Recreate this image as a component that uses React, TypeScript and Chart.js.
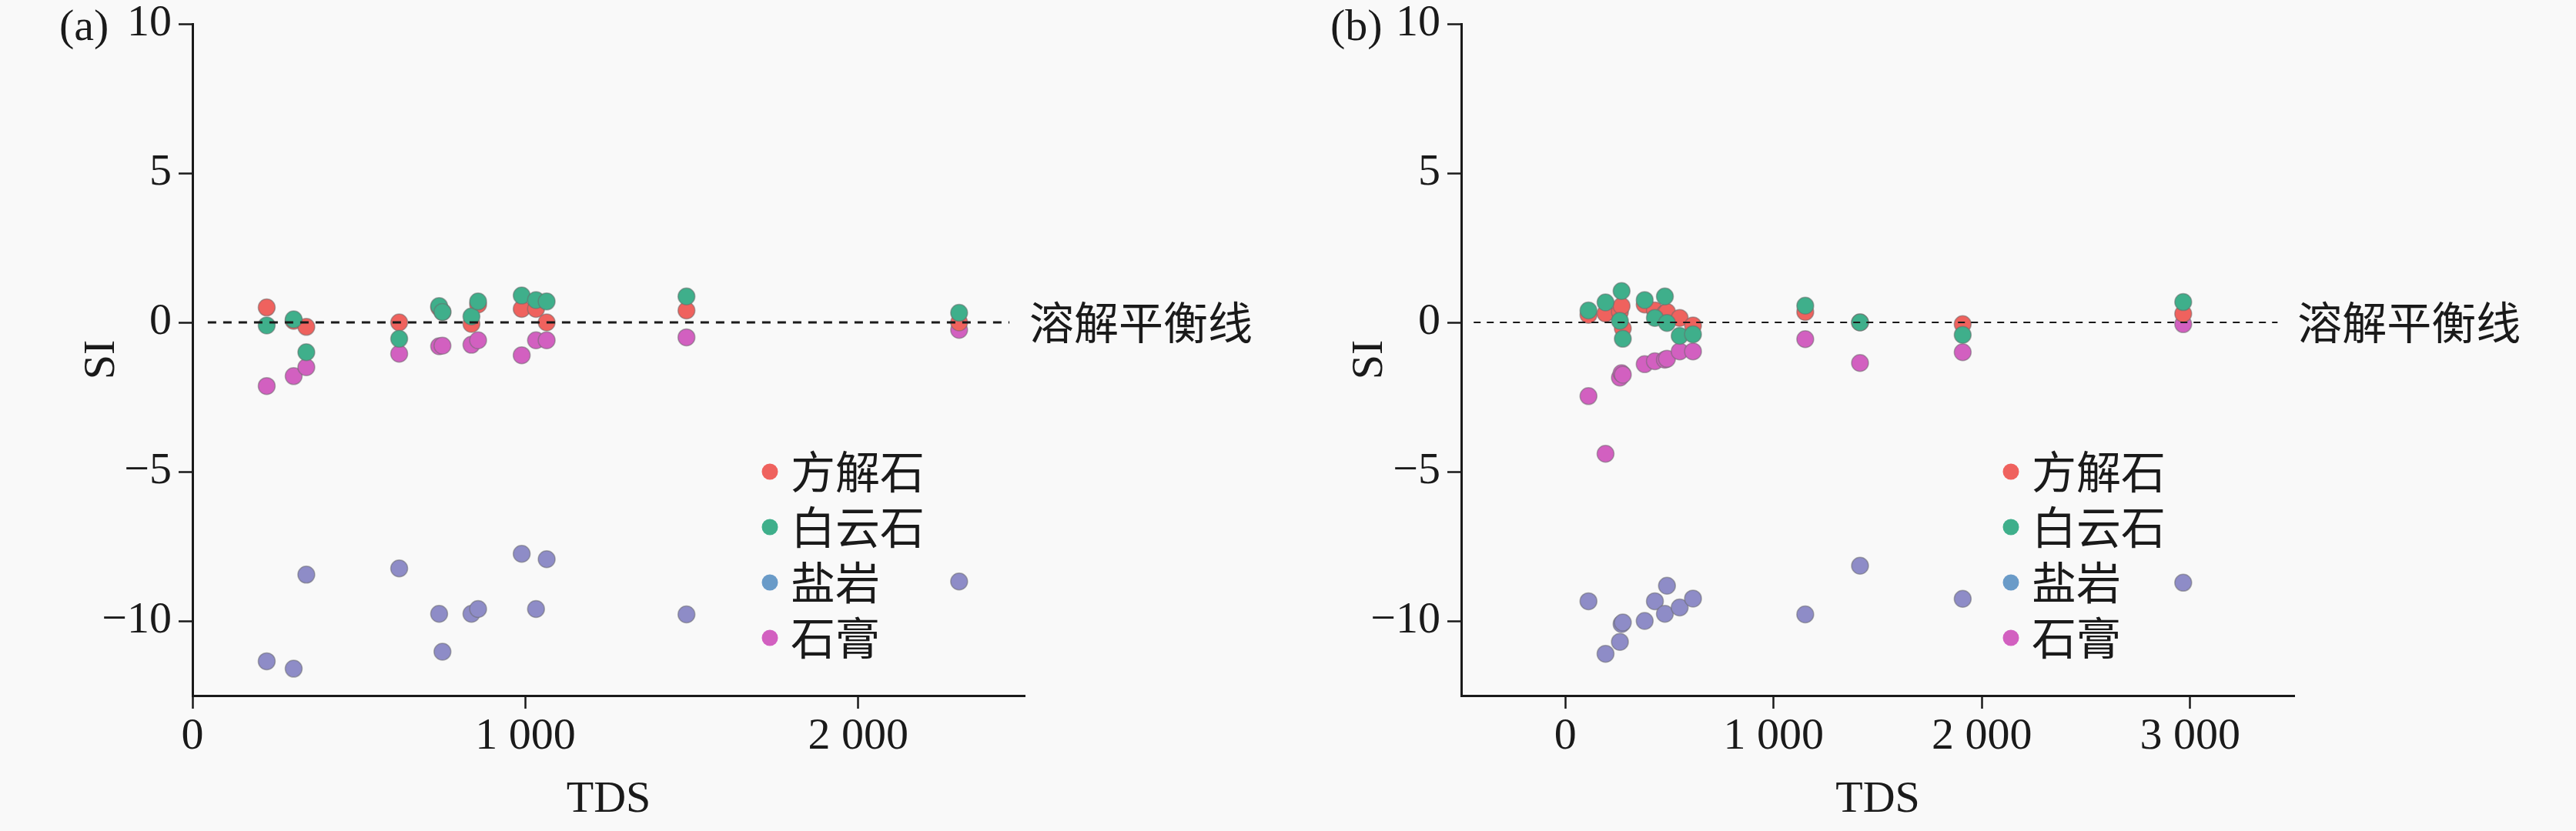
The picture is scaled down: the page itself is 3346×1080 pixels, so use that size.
import React, { useEffect, useRef } from 'react';
import { Chart, registerables } from 'chart.js';

Chart.register(...registerables);

// ---------- data ----------
const seriesNames = ['方解石', '白云石', '盐岩', '石膏'];
const seriesColors = ['#EF625E', '#3FAF8B', '#6A9BC8', '#D260C0'];
const halitePointColor = '#8E8CC7';

// panel (a)
const tdsA = [223, 304, 342, 621, 741, 751, 838, 858, 989, 1032, 1064, 1484, 2303];
const calciteA = [0.5, 0.05, -0.15, 0.0, 0.5, 0.35, -0.05, 0.6, 0.45, 0.45, 0.0, 0.4, 0.0];
const dolomiteA = [-0.1, 0.1, -1.0, -0.55, 0.55, 0.35, 0.2, 0.7, 0.9, 0.75, 0.7, 0.87, 0.32];
const haliteA = [-11.35, -11.6, -8.45, -8.24, -9.76, -11.03, -9.76, -9.6, -7.75, -9.6, -7.93, -9.78, -8.68];
const gypsumA = [-2.13, -1.8, -1.5, -1.05, -0.8, -0.78, -0.75, -0.6, -1.1, -0.6, -0.6, -0.5, -0.25];

// panel (b)
const tdsB = [111, 193, 262, 270, 276, 381, 430, 478, 488, 549, 613, 1152, 1415, 1908, 2967];
const calciteB = [0.25, 0.3, 0.35, 0.55, -0.2, 0.6, 0.4, 0.3, 0.35, 0.15, -0.1, 0.35, 0.0, -0.06, 0.29];
const dolomiteB = [0.4, 0.67, 0.05, 1.05, -0.55, 0.75, 0.15, 0.87, -0.02, -0.45, -0.4, 0.56, 0.0, -0.42, 0.68];
const haliteB = [-9.34, -11.1, -10.7, -10.1, -10.05, -10.0, -9.34, -9.76, -8.82, -9.55, -9.25, -9.78, -8.15, -9.26, -8.72];
const gypsumB = [-2.47, -4.4, -1.85, -1.7, -1.75, -1.4, -1.3, -1.25, -1.22, -0.97, -0.97, -0.56, -1.36, -1.0, -0.06];

const siTicks = [-10, -5, 0, 5, 10];
const tdsTicksA = [0, 1000, 2000];
const tdsTicksB = [0, 1000, 2000, 3000];
const siRange = [-12.5, 10];
const tdsRangeA = [0, 2500];
const tdsRangeB = [-500, 3500];
const equilibriumSI = 0;
const equilibriumSpanA = [46, 2454];
const equilibriumSpanB = [-440, 3420];
const equilibriumLabel = '溶解平衡线';
const xTitle = 'TDS';
const yTitle = 'SI';
const panelLabels = ['(a)', '(b)'];

// ---------- style ----------
const SERIF = "'Liberation Serif', 'Times New Roman', serif";
const CJK = "'Noto Sans CJK SC', 'Noto Sans CJK JP', sans-serif";
const INK = '#1a1a1a';
const FS = 58;
const drawOrder = [1, 0, 3, 2];

function fmt(v: number): string {
  const s = Math.abs(v).toString().replace(/\B(?=(\d{3})+(?!\d))/g, ' ');
  return v < 0 ? '\u2212' + s : s;
}

const decorPlugin = {
  id: 'panelDecor',
  afterDatasetsDraw(chart: any, _args: any, opts: any) {
    const { ctx, chartArea, scales } = chart;
    const xs = scales.x;
    const ys = scales.y;
    ctx.save();
    // equilibrium label
    ctx.fillStyle = INK;
    ctx.font = `${FS}px ${CJK}`;
    ctx.textAlign = 'left';
    ctx.textBaseline = 'middle';
    ctx.fillText(opts.eqLabel, xs.getPixelForValue(opts.eqSpan[1]) + 26, ys.getPixelForValue(opts.eqValue));
    // panel label
    ctx.font = `${FS}px ${SERIF}`;
    ctx.textBaseline = 'alphabetic';
    ctx.fillText(opts.panelLabel, opts.panelLabelX, ys.getPixelForValue(siRange[1]) + 21);
    // legend
    const items = chart.data.datasets.filter((d: any) => d.inLegend);
    const lx = chartArea.right - opts.legendFromRight;
    const ly0 = chartArea.top + opts.legendTop;
    items.forEach((d: any, i: number) => {
      const cy = ly0 + i * 72;
      ctx.beginPath();
      ctx.arc(lx, cy, 10.5, 0, Math.PI * 2);
      ctx.fillStyle = d.backgroundColor;
      ctx.fill();
      ctx.fillStyle = INK;
      ctx.font = `${FS}px ${CJK}`;
      ctx.textBaseline = 'middle';
      ctx.fillText(d.label, lx + 27, cy);
    });
    ctx.restore();
  },
};

interface PanelProps {
  left: number;
  tds: number[];
  series: number[][];
  xRange: number[];
  xTicks: number[];
  eqSpan: number[];
  eqWidth: number;
  eqDash: number[];
  panelLabel: string;
  panelLabelX: number;
  yWidth: number;
  padRight: number;
  yTitlePad: number;
  legendFromRight: number;
}

function Panel(p: PanelProps) {
  const ref = useRef<HTMLCanvasElement | null>(null);
  useEffect(() => {
    if (!ref.current) return;
    const tickFont = { family: SERIF, size: FS, lineHeight: 1 };
    const datasets: any[] = [
      {
        type: 'line',
        label: equilibriumLabel,
        data: p.eqSpan.map((x) => ({ x, y: equilibriumSI })),
        borderColor: INK,
        borderWidth: p.eqWidth,
        borderDash: p.eqDash,
        pointRadius: 0,
        showLine: true,
        fill: false,
        order: -1,
      },
      ...seriesNames.map((name, i) => ({
        type: 'scatter',
        label: name,
        data: p.tds.map((x, j) => ({ x, y: p.series[i][j] })),
        backgroundColor: seriesColors[i],
        pointBackgroundColor: i === 2 ? halitePointColor : seriesColors[i],
        pointBorderColor: 'rgba(105,105,105,0.5)',
        pointBorderWidth: 1.5,
        pointRadius: 11,
        order: drawOrder[i],
        inLegend: true,
      })),
    ];
    const chart = new Chart(ref.current, {
      type: 'scatter',
      data: { datasets },
      options: {
        responsive: false,
        animation: false,
        layout: { padding: { left: 0, right: p.padRight, top: 31, bottom: 0 } },
        plugins: {
          legend: { display: false },
          tooltip: { enabled: false },
          panelDecor: {
            eqLabel: equilibriumLabel,
            eqSpan: p.eqSpan,
            eqValue: equilibriumSI,
            panelLabel: p.panelLabel,
            panelLabelX: p.panelLabelX,
            legendFromRight: p.legendFromRight,
            legendTop: 582,
          },
        } as any,
        scales: {
          x: {
            type: 'linear',
            min: p.xRange[0],
            max: p.xRange[1],
            afterBuildTicks: (s: any) => {
              s.ticks = p.xTicks.map((v) => ({ value: v }));
            },
            afterFit: (s: any) => {
              s.height = 176;
              s.paddingLeft = 0;
              s.paddingRight = 0;
            },
            ticks: {
              font: tickFont,
              color: INK,
              padding: 8,
              maxRotation: 0,
              autoSkip: false,
              callback: (v: any) => fmt(Number(v)),
            },
            grid: { display: true, drawOnChartArea: false, drawTicks: true, tickLength: 17, tickWidth: 2.5, tickColor: INK },
            border: { display: true, color: INK, width: 3 },
            title: { display: true, text: xTitle, color: INK, font: { family: SERIF, size: FS }, padding: { top: 0, bottom: 5 } },
          },
          y: {
            type: 'linear',
            min: siRange[0],
            max: siRange[1],
            afterBuildTicks: (s: any) => {
              s.ticks = siTicks.map((v) => ({ value: v }));
            },
            afterFit: (s: any) => {
              s.width = p.yWidth;
              s.paddingTop = 0;
              s.paddingBottom = 0;
            },
            ticks: {
              font: tickFont,
              color: INK,
              padding: 9,
              autoSkip: false,
              callback: (v: any) => fmt(Number(v)),
            },
            grid: { display: true, drawOnChartArea: false, drawTicks: true, tickLength: 18, tickWidth: 2.5, tickColor: INK },
            border: { display: true, color: INK, width: 3 },
            title: { display: true, text: yTitle, color: INK, font: { family: SERIF, size: FS }, padding: { top: p.yTitlePad, bottom: 0 } },
          },
        },
      } as any,
      plugins: [decorPlugin as any],
    });
    return () => chart.destroy();
  }, []);
  return (
    <canvas
      ref={ref}
      width={1673}
      height={1080}
      style={{ position: 'absolute', left: p.left, top: 0, width: 1673, height: 1080 }}
    />
  );
}

export default function App() {
  return (
    <div
      style={{
        position: 'absolute',
        left: 0,
        top: 0,
        width: 3346,
        height: 1080,
        background: '#f9f9f9',
        overflow: 'hidden',
      }}
    >
      <Panel
        left={0}
        tds={tdsA}
        series={[calciteA, dolomiteA, haliteA, gypsumA]}
        xRange={tdsRangeA}
        xTicks={tdsTicksA}
        eqSpan={equilibriumSpanA}
        eqWidth={3}
        eqDash={[11, 9]}
        panelLabel={panelLabels[0]}
        panelLabelX={77}
        yWidth={250}
        padRight={342}
        yTitlePad={98}
        legendFromRight={331}
      />
      <Panel
        left={1673}
        tds={tdsB}
        series={[calciteB, dolomiteB, haliteB, gypsumB]}
        xRange={tdsRangeB}
        xTicks={tdsTicksB}
        eqSpan={equilibriumSpanB}
        eqWidth={2}
        eqDash={[9, 8]}
        panelLabel={panelLabels[1]}
        panelLabelX={55}
        yWidth={225}
        padRight={366}
        yTitlePad={72}
        legendFromRight={368}
      />
    </div>
  );
}
